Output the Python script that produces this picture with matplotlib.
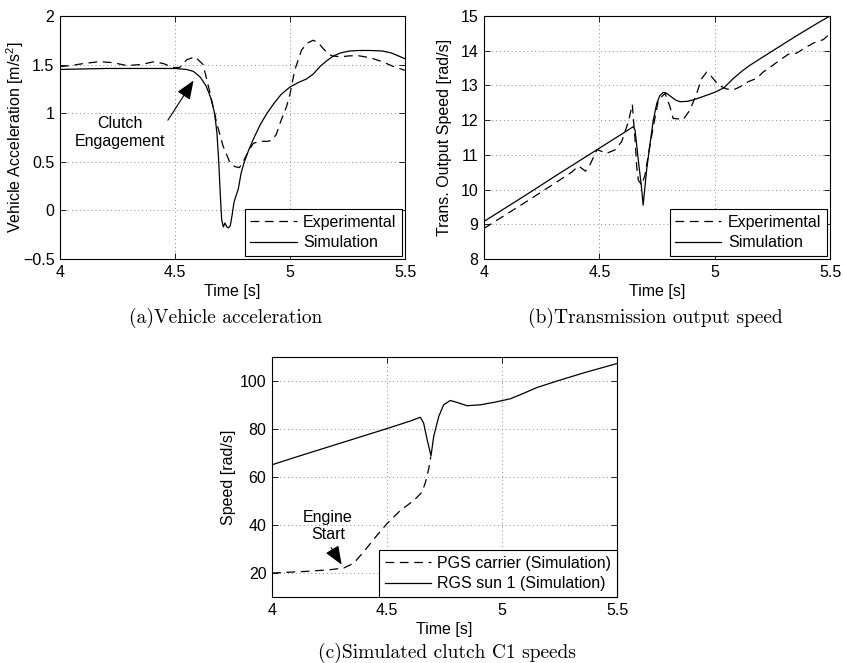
import matplotlib
matplotlib.use("Agg")
import matplotlib.pyplot as plt

plt.rcParams['font.family'] = ['Liberation Sans', 'DejaVu Sans']
plt.rcParams['mathtext.fontset'] = 'custom'
plt.rcParams['mathtext.rm'] = 'Liberation Sans'
plt.rcParams['mathtext.it'] = 'Liberation Sans:italic'
plt.rcParams['axes.unicode_minus'] = False

# ---- (a) vehicle acceleration ----
t_a_exp = [4.00, 4.05, 4.10, 4.17, 4.23, 4.29, 4.35, 4.41, 4.45, 4.49, 4.52, 4.551, 4.587,
           4.622, 4.652, 4.681, 4.709, 4.739, 4.76, 4.78, 4.80, 4.82, 4.84, 4.87, 4.90, 4.92,
           4.94, 4.957, 4.985, 5.00, 5.02, 5.05, 5.075, 5.10, 5.12, 5.15, 5.18, 5.22, 5.26,
           5.30, 5.35, 5.40, 5.45, 5.50]
a_exp = [1.48, 1.49, 1.51, 1.53, 1.52, 1.49, 1.50, 1.53, 1.51, 1.47, 1.47, 1.55, 1.58,
         1.50, 1.21, 0.90, 0.66, 0.49, 0.45, 0.44, 0.52, 0.61, 0.69, 0.71, 0.71, 0.72,
         0.78, 0.90, 1.07, 1.20, 1.44, 1.65, 1.72, 1.75, 1.73, 1.65, 1.59, 1.58, 1.59,
         1.59, 1.57, 1.53, 1.48, 1.44]

t_a_sim = [4.00, 4.10, 4.20, 4.30, 4.40, 4.50, 4.55, 4.58, 4.61, 4.635, 4.655, 4.672, 4.682,
           4.690, 4.697, 4.703, 4.710, 4.717, 4.725, 4.732, 4.740, 4.748, 4.756, 4.765, 4.775,
           4.787, 4.800, 4.820, 4.840, 4.870, 4.900, 4.930, 4.960, 5.000, 5.040, 5.070, 5.100,
           5.130, 5.160, 5.190, 5.220, 5.260, 5.300, 5.350, 5.400, 5.440, 5.470, 5.500]
a_sim = [1.45, 1.455, 1.46, 1.46, 1.46, 1.46, 1.45, 1.43, 1.37, 1.28, 1.16, 1.00, 0.80,
         0.50, 0.15, -0.10, -0.17, -0.13, -0.17, -0.18, -0.16, -0.05, 0.08, 0.15, 0.22,
         0.38, 0.49, 0.62, 0.73, 0.88, 1.00, 1.10, 1.19, 1.27, 1.32, 1.35, 1.40,
         1.48, 1.54, 1.59, 1.62, 1.64, 1.645, 1.645, 1.64, 1.62, 1.59, 1.56]

# ---- (b) transmission output speed ----
t_b_exp = [4.00, 4.10, 4.20, 4.30, 4.38, 4.41, 4.44, 4.46, 4.49, 4.51, 4.53, 4.567, 4.597,
           4.626, 4.643, 4.655, 4.662, 4.669, 4.684, 4.698, 4.715, 4.734, 4.756, 4.785,
           4.806, 4.82, 4.864, 4.893, 4.922, 4.944, 4.965, 4.987, 5.016, 5.05, 5.081, 5.11,
           5.146, 5.182, 5.211, 5.254, 5.283, 5.32, 5.355, 5.399, 5.428, 5.471, 5.50]
s_b_exp = [8.88, 9.30, 9.72, 10.15, 10.50, 10.68, 10.53, 10.72, 11.15, 11.10, 11.04, 11.14,
           11.38, 11.95, 12.45, 11.43, 10.66, 10.27, 10.13, 10.42, 11.10, 11.81, 12.58, 12.77,
           12.39, 12.05, 12.02, 12.29, 12.77, 13.20, 13.38, 13.25, 13.01, 12.90, 12.87, 12.96,
           13.11, 13.20, 13.39, 13.59, 13.73, 13.90, 13.93, 14.11, 14.22, 14.32, 14.49]

t_b_sim = [4.00, 4.10, 4.20, 4.30, 4.40, 4.50, 4.60, 4.647, 4.655, 4.669, 4.684, 4.690,
           4.705, 4.720, 4.734, 4.749, 4.762, 4.777, 4.790, 4.810, 4.830, 4.850, 4.880,
           4.906, 4.950, 5.000, 5.040, 5.081, 5.120, 5.153, 5.200, 5.250, 5.300, 5.355,
           5.400, 5.450, 5.500]
s_b_sim = [9.08, 9.50, 9.92, 10.35, 10.77, 11.19, 11.61, 11.81, 11.71, 10.85, 9.99, 9.55,
           10.56, 11.33, 12.00, 12.48, 12.70, 12.80, 12.78, 12.68, 12.58, 12.53, 12.54,
           12.58, 12.68, 12.80, 12.93, 13.20, 13.42, 13.58, 13.78, 13.99, 14.20, 14.43,
           14.61, 14.81, 15.00]

# ---- (c) simulated clutch C1 speeds ----
t_c_pgs = [4.00, 4.152, 4.254, 4.312, 4.355, 4.399, 4.457, 4.50, 4.558, 4.616, 4.652,
           4.667, 4.681, 4.690]
s_c_pgs = [20.0, 20.7, 21.4, 22.1, 24.1, 28.9, 35.8, 40.6, 46.1, 50.2, 53.7, 57.8, 63.3, 68.5]

t_c_rgs = [4.00, 4.10, 4.20, 4.30, 4.40, 4.50, 4.60, 4.645, 4.659, 4.674, 4.691, 4.703,
           4.725, 4.746, 4.775, 4.804, 4.848, 4.906, 4.964, 5.036, 5.094, 5.152, 5.239,
           5.355, 5.50]
s_c_rgs = [65.1, 68.2, 71.2, 74.2, 77.2, 80.2, 83.3, 84.9, 82.5, 75.7, 68.8, 77.0,
           85.3, 90.1, 91.9, 91.1, 89.7, 90.1, 91.1, 92.6, 94.9, 97.3, 100.0,
           103.4, 107.3]

x_ticks = [4, 4.5, 5, 5.5]
x_tick_labels = ['4', '4.5', '5', '5.5']
y_ticks_a = [-0.5, 0, 0.5, 1, 1.5, 2]
y_tick_labels_a = ['\u22120.5', '0', '0.5', '1', '1.5', '2']
y_ticks_b = [8, 9, 10, 11, 12, 13, 14, 15]
y_ticks_c = [20, 40, 60, 80, 100]

FS = 11.5
LW = 0.9
DASH = (7, 4.5)

W, H = 843, 663
fig = plt.figure(figsize=(W / 100, H / 100), dpi=100)
ax_a = fig.add_axes([0.0712, 0.6094, 0.4093, 0.3665])
ax_b = fig.add_axes([0.5741, 0.6094, 0.4105, 0.3665])
ax_c = fig.add_axes([0.3227, 0.0995, 0.4093, 0.3620])


def style(ax, yticks, ylabels=None):
    ax.set_xlim(4, 5.5)
    ax.set_xticks(x_ticks)
    ax.set_xticklabels(x_tick_labels, fontsize=FS)
    ax.set_yticks(yticks)
    if ylabels is None:
        ylabels = [f"{v:g}" for v in yticks]
    ax.set_yticklabels(ylabels, fontsize=FS)
    ax.tick_params(direction='in', length=4, width=0.6, top=True, right=True, pad=4)
    ax.grid(True, linestyle=(0, (1, 3)), color='#8a8a8a', linewidth=0.7)
    for sp in ax.spines.values():
        sp.set_linewidth(0.8)
    ax.set_xlabel('Time [s]', fontsize=FS, labelpad=3)


def legend(ax, pad):
    ax.legend(loc='lower right', fontsize=FS, frameon=True, fancybox=False,
              edgecolor='black', framealpha=1, handlelength=2.9, handletextpad=0.4,
              labelspacing=0.35, borderpad=0.35, borderaxespad=pad).get_frame().set_linewidth(0.8)


ARROW = dict(arrowstyle='-|>,head_length=1.0,head_width=0.4', color='k', lw=0.8)

# (a)
ax_a.plot(t_a_exp, a_exp, color='k', lw=LW, dashes=DASH, label='Experimental')
ax_a.plot(t_a_sim, a_sim, color='k', lw=LW, label='Simulation')
ax_a.set_ylim(-0.5, 2)
style(ax_a, y_ticks_a, y_tick_labels_a)
ax_a.set_ylabel('Vehicle Acceleration [m/s$^2$]', fontsize=FS)
ax_a.yaxis.set_label_coords(-0.099, 0.5)
legend(ax_a, 0.2)
ax_a.annotate('Clutch\nEngagement', xy=(4.587, 1.36), xytext=(4.26, 0.80),
              ha='center', va='center', fontsize=FS, linespacing=1.2,
              arrowprops=dict(ARROW, shrinkA=0, relpos=(1.0, 0.75)))

# (b)
ax_b.plot(t_b_exp, s_b_exp, color='k', lw=LW, dashes=DASH, label='Experimental')
ax_b.plot(t_b_sim, s_b_sim, color='k', lw=LW, label='Simulation')
ax_b.set_ylim(8, 15)
style(ax_b, y_ticks_b)
ax_b.set_ylabel('Trans. Output Speed [rad/s]', fontsize=FS)
ax_b.yaxis.set_label_coords(-0.091, 0.5)
legend(ax_b, 0.2)

# (c)
ax_c.plot(t_c_pgs, s_c_pgs, color='k', lw=LW, dashes=DASH, label='PGS carrier (Simulation)')
ax_c.plot(t_c_rgs, s_c_rgs, color='k', lw=LW, label='RGS sun 1 (Simulation)')
ax_c.set_ylim(10, 110)
style(ax_c, y_ticks_c)
ax_c.set_ylabel('Speed [rad/s]', fontsize=FS)
ax_c.yaxis.set_label_coords(-0.103, 0.5)
legend(ax_c, 0.0)
ax_c.annotate('Engine\nStart', xy=(4.309, 22.5), xytext=(4.243, 39.5),
              ha='center', va='center', fontsize=FS, linespacing=1.2,
              arrowprops=dict(ARROW, shrinkA=2, relpos=(0.5, 0.0)))

cap = dict(fontsize=14, family='cmr10', ha='center', va='baseline')
fig.text(226 / W, 1 - 323 / H, '(a)Vehicle acceleration', **cap)
fig.text(655 / W, 1 - 323 / H, '(b)Transmission output speed', **cap)
fig.text(447 / W, 1 - 657.5 / H, '(c)Simulated clutch C1 speeds', **cap)

fig.savefig('out.png', dpi=100)
